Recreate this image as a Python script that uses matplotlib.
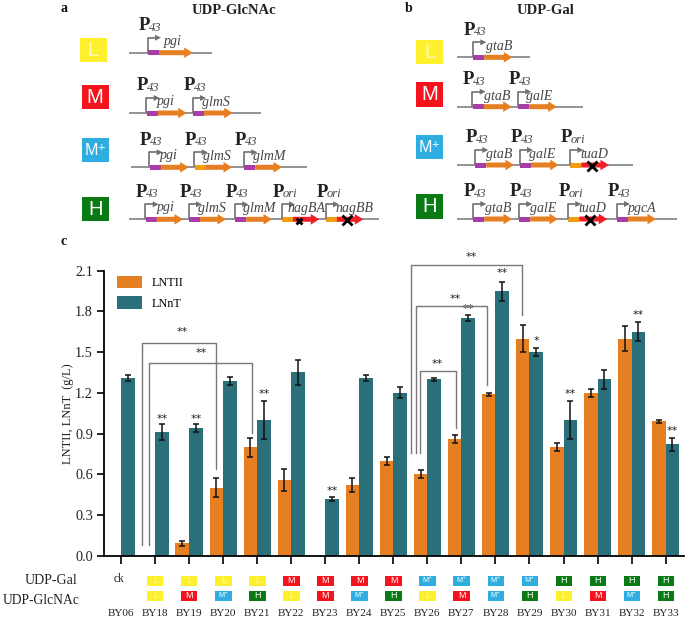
import matplotlib
matplotlib.use("Agg")
import matplotlib.pyplot as plt
from matplotlib.patches import Polygon, Rectangle

plt.rcParams['font.family'] = ['Liberation Serif', 'DejaVu Serif']

# ---- chart data
strains = ["BY06","BY18","BY19","BY20","BY21","BY22","BY23","BY24","BY25","BY26","BY27","BY28","BY29","BY30","BY31","BY32","BY33"]
lntii = [0,0,.09,.50,.80,.56,0,.52,.70,.60,.86,1.19,1.60,.80,1.20,1.60,.99]
lnnt = [1.31,.91,.94,1.29,1.00,1.35,.42,1.31,1.20,1.30,1.75,1.95,1.50,1.00,1.30,1.65,.82]
lntii_err = [0,0,.02,.07,.07,.08,0,.05,.03,.03,.03,.01,.10,.03,.03,.09,.01]
lnnt_err = [.02,.06,.03,.03,.14,.09,.015,.02,.04,.01,.02,.07,.03,.14,.07,.07,.05]
gal_level = [None,"L","L","L","L","M","M","M","M","M+","M+","M+","M+","H","H","H","H"]
glc_level = [None,"L","M","M+","H","L","M","M+","H","L","M","M+","H","L","M","M+","H"]
star_labels = [(1,"**",1.01),(2,"**",1.01),(4,"**",1.19),(6,"**",.48),(10,"**",1.82),(11,"**",2.08),
               (12,"*",1.585),(13,"**",1.19),(15,"**",1.77),(16,"**",.92)]
# left x, right x, top, left foot, right foot, star x, star y
brackets = [(.61,2.79,1.57,.08,.64,1.79,1.65),(.81,3.85,1.42,.08,.905,2.35,1.49),
            (8.53,11.77,2.145,.76,1.77,10.28,2.20),(8.66,10.76,1.84,.76,1.26,9.81,1.89),
            (8.77,9.85,1.36,.76,.94,9.3,1.41)]
yticks = [0,.3,.6,.9,1.2,1.5,1.8,2.1]

# ---- schematic layout: start, end, gene, label x, promoter, knockout x
panel_a = [
 ("L",(80,106.7,37.7,62),52.7,(129,212),[(148,192.7,"pgi",172.7,"43",None)]),
 ("M",(81.7,108.7,84.7,109.3),113,(129,260.7),[(146.7,186.7,"pgi",165.7,"43",None),(193,232.7,"glmS",215.7,"43",None)]),
 ("M+",(82,108.7,137.7,162.3),167.3,(131,307),[(149.7,188.7,"pgi",168.7,"43",None),(194.7,232,"glmS",217,"43",None),(244.3,282,"glmM",269.5,"43",None)]),
 ("H",(81.7,108.7,196.7,221.3),219.3,(129,379),[(145.7,183,"pgi",165.7,"43",None),(189,226,"glmS",212,"43",None),(235.3,272,"glmM",259.5,"43",None),
   (282,319.3,"nagBA",307,"ori",299),(326,363.3,"nagBB",355,"ori",347)]),
]
panel_b = [
 ("L",(416.3,443.3,39.7,64),57.3,(456.7,530),[(473.3,512.3,"gtaB",499.5,"43",None)]),
 ("M",(416.3,443.3,81.7,106.7),106.7,(456.7,583.3),[(472.7,511.7,"gtaB",497.5,"43",None),(518.3,556.7,"galE",539.5,"43",None)]),
 ("M+",(416.3,443.3,134.7,159.3),165,(456.7,633.3),[(475.3,514,"gtaB",499.5,"43",None),(520,558.7,"galE",542,"43",None),(570.3,609,"tuaD",594,"ori",592.3)]),
 ("H",(416.3,443.3,193.7,218.7),219,(456.7,677.3),[(473.3,512,"gtaB",498,"43",None),(519.3,558,"galE",543.5,"43",None),(568.3,607.3,"tuaD",592,"ori",589.7),(617,656,"pgcA",642.5,"43",None)]),
]

ORANGE, TEAL = "#E67E22", "#2A6F7A"
TILE = {"L":"#FFF02E","M":"#F5141E","M+":"#2EADE0","H":"#0A7A14"}
TXT = {"L":"L","M":"M","M+":"M\u207a","H":"H"}
W, H = 685, 621

fig = plt.figure(figsize=(W/100, H/100), dpi=100)
ax = fig.add_axes([104/W, 1-555.7/H, 580/W, 285/H])
ax.set_xlim(-.5, 16.54)
ax.set_ylim(0, 2.1)
x = list(range(len(strains)))
ebk = dict(ecolor="#111111", elinewidth=1.1, capsize=2.2, capthick=1.1)
ax.bar([i-.2 for i in x], lntii, .4, color=ORANGE, label="LNTII")
ax.bar([i+.2 for i in x], lnnt, .4, color=TEAL, label="LNnT")
for xs, v, e in (([i-.2 for i in x], lntii, lntii_err), ([i+.2 for i in x], lnnt, lnnt_err)):
    keep = [k for k in x if v[k] > 0]
    ax.errorbar([xs[k] for k in keep], [v[k] for k in keep], yerr=[e[k] for k in keep], fmt="none", **ebk)
for i, s, y in star_labels:
    ax.text(i+.2, y, s, ha="center", va="center", fontsize=8, color="#222222", family="DejaVu Sans")
for l, r, t, fl, fr, sx, sy in brackets:
    ax.plot([l,l,r,r],[fl,t,t,fr], color="#777777", lw=1.0, clip_on=False, zorder=4)
    ax.text(sx, sy, "**", ha="center", va="center", fontsize=8, color="#222222", family="DejaVu Sans")
for s in ("top","right"):
    ax.spines[s].set_visible(False)
for s in ("left","bottom"):
    ax.spines[s].set_linewidth(1.3)
ax.set_yticks(yticks, [f"{v:.1f}" for v in yticks], fontsize=10.3, color="#222222")
ax.set_xticks(x, strains, fontsize=8.1, color="#222222")
ax.tick_params(axis="y", length=5, width=1.2, pad=3)
ax.tick_params(axis="x", length=5.5, width=1.2, pad=33)
ax.set_ylabel("LNTII, LNnT  (g/L)", fontsize=9, color="#222222", labelpad=1)
ax.legend(loc="upper left", bbox_to_anchor=(117.3/W, 1-275.5/H), bbox_transform=fig.transFigure, frameon=False,
          fontsize=8.8, handlelength=2.0, handleheight=1.2, labelspacing=.6, handletextpad=.85, borderpad=0, borderaxespad=0)

ov = fig.add_axes([0,0,1,1], facecolor="none")
ov.set_xlim(0, W); ov.set_ylim(H, 0); ov.axis("off")

def tile(x0, x1, y0, y1, lev, fs):
    ov.add_patch(Rectangle((x0,y0), x1-x0, y1-y0, color=TILE[lev], lw=0))
    c = "#FFFBC0" if lev == "L" else "white"
    size = fs*.8 if lev == "M+" else fs
    ov.text((x0+x1)/2, (y0+y1)/2+.3, TXT[lev], ha="center", va="center", fontsize=size, color=c,
            family=["Liberation Sans","DejaVu Sans"])

for i, (g, n) in enumerate(zip(gal_level, glc_level)):
    px = ax.transData.transform((i, 0))[0]
    if g:
        tile(px-7.9, px+8.4, 575.5, 585.5, g, 6.5)
        tile(px-7.9, px+8.4, 590.5, 600.5, n, 6.5)
ov.text(119, 579.5, "ck", ha="center", va="center", fontsize=8.3, color="#222222")
ov.text(77.5, 581, "UDP-Gal", ha="right", va="center", fontsize=10, color="#222222")
ov.text(80, 601, "UDP-GlcNAc", ha="right", va="center", fontsize=9.8, color="#222222")

def gene(g0, g1, y, rbs, body):
    sh, hd, hl = 2.5, 5.3, 8.5
    ov.add_patch(Rectangle((g0, y-sh), 11, 2*sh, color=rbs, lw=0, zorder=3))
    ov.add_patch(Polygon([(g0+11,y-sh),(g1-hl,y-sh),(g1-hl,y-hd),(g1,y),(g1-hl,y+hd),(g1-hl,y+sh),(g0+11,y+sh)],
                 closed=True, color=body, lw=0, zorder=3))

for rows in (panel_a, panel_b):
    for lev, box, y, back, genes in rows:
        tile(box[0], box[1], box[2], box[3], lev, 14.5)
        ov.plot(back, [y,y], color="#808080", lw=1.2, zorder=2, solid_capstyle="butt")
        for g0, g1, name, lx, prom, ko in genes:
            ori = prom == "ori"
            first = "#F39C12" if ori or (name == "glmS" and lev == "M+") else "#A83CA8"
            gene(g0, g1, y, first, "#F01E28" if ori else ORANGE)
            ov.plot([g0-.3,g0-.3,g0+8], [y-1,y-15,y-15], color="#707070", lw=1.2, zorder=4)
            ov.add_patch(Polygon([(g0+7,y-18),(g0+13,y-15),(g0+7,y-12)], closed=True, color="#707070", lw=0, zorder=4))
            ov.text(g0-9.5, y-27, "P", ha="left", va="center", fontsize=13.5, weight="bold", color="#222222")
            ov.text(g0+.5, y-25, prom, ha="left", va="center", fontsize=9, style="italic", color="#444444")
            ov.text(lx, y-10.5 - (1 if name == "pgi" else 0), name, ha="center", va="center", fontsize=10, style="italic", color="#444444", zorder=5)
            if ko is not None:
                small = name == "nagBA"
                ov.plot([ko], [y+(2 if small else .5)], marker="x", ms=4 if small else 6.5, mew=2, color="black", zorder=6)

ov.text(64, 9, "a", ha="center", va="center", fontsize=10, weight="bold", color="#111111")
ov.text(409, 9, "b", ha="center", va="center", fontsize=10, weight="bold", color="#111111")
ov.text(64, 241.5, "c", ha="center", va="center", fontsize=10, weight="bold", color="#111111")
ov.text(234, 10.5, "UDP-GlcNAc", ha="center", va="center", fontsize=10.5, weight="bold", color="#222222")
ov.text(546, 10, "UDP-Gal", ha="center", va="center", fontsize=10.5, weight="bold", color="#222222")

fig.savefig("out.png", dpi=100)
